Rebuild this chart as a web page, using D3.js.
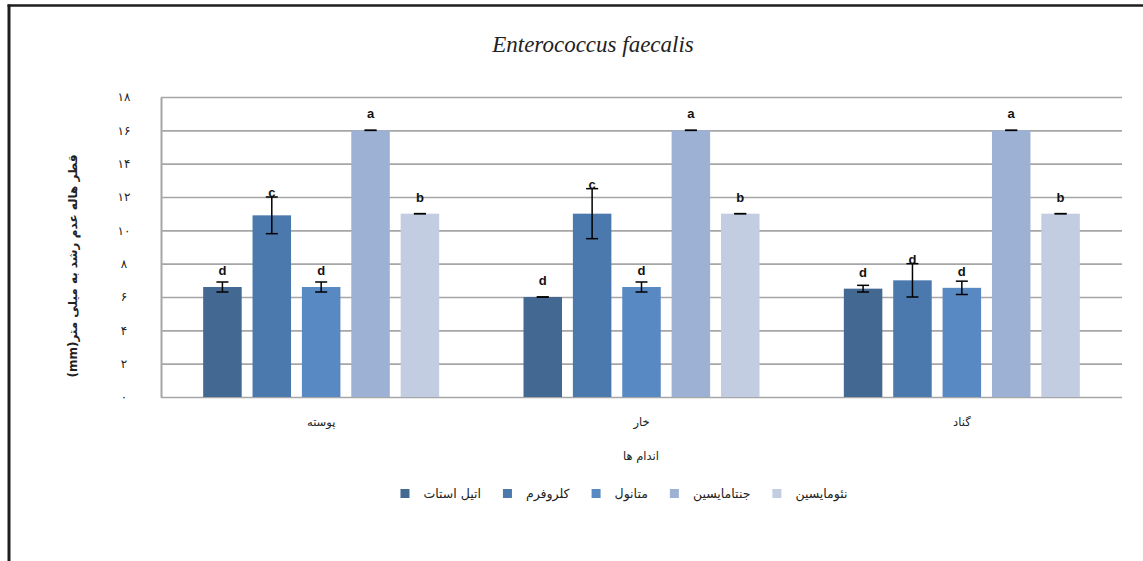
<!DOCTYPE html>
<html>
<head>
<meta charset="utf-8">
<script src="https://cdn.jsdelivr.net/npm/d3@7"></script>
<style>
  html, body { margin: 0; padding: 0; background: #fff; }
  svg { display: block; }
</style>
</head>
<body>
<svg id="chart" width="1143" height="561"></svg>
<script>
// Plant organs (x categories) and extract/antibiotic series
const categories = ['پوسته', 'خار', 'گناد'];
const seriesNames = ['اتیل استات', 'کلروفرم', 'متانول', 'جنتامایسین', 'نئومایسین'];
const seriesColors = ['#436892', '#4b79ad', '#5889c2', '#9db1d5', '#c2cde2'];

// Inhibition zone diameter (mm), one value per organ
const ethylAcetate = [6.6, 6.0, 6.5];
const chloroform   = [10.9, 11.0, 7.0];
const methanol     = [6.6, 6.6, 6.55];
const gentamicin   = [16, 16, 16];
const neomycin     = [11, 11, 11];

// Standard errors
const ethylAcetateErr = [0.3, 0, 0.2];
const chloroformErr   = [1.1, 1.5, 1.0];
const methanolErr     = [0.3, 0.3, 0.4];
const gentamicinErr   = [0, 0, 0];
const neomycinErr     = [0, 0, 0];

// Significance letters
const ethylAcetateSig = ['d', 'd', 'd'];
const chloroformSig   = ['c', 'c', 'd'];
const methanolSig     = ['d', 'd', 'd'];
const gentamicinSig   = ['a', 'a', 'a'];
const neomycinSig     = ['b', 'b', 'b'];

const yTicks = [0, 2, 4, 6, 8, 10, 12, 14, 16, 18];

const seriesValues = [ethylAcetate, chloroform, methanol, gentamicin, neomycin];
const seriesErrors = [ethylAcetateErr, chloroformErr, methanolErr, gentamicinErr, neomycinErr];
const seriesSig    = [ethylAcetateSig, chloroformSig, methanolSig, gentamicinSig, neomycinSig];

const rows = [];
categories.forEach((c, ci) => {
  seriesNames.forEach((s, si) => {
    rows.push({ cat: c, series: s, si, value: seriesValues[si][ci], err: seriesErrors[si][ci], sig: seriesSig[si][ci] });
  });
});

const persianDigits = '۰۱۲۳۴۵۶۷۸۹';
const toPersian = n => String(n).replace(/\d/g, d => persianDigits[d]);

const svg = d3.select('#chart');
const faFont = '"DejaVu Sans", "Noto Sans", sans-serif';

// Outer frame (left and top edges)
svg.append('line').attr('x1', 9).attr('x2', 9).attr('y1', 4.5).attr('y2', 561)
  .attr('stroke', '#1e1e1e').attr('stroke-width', 3);
svg.append('line').attr('x1', 7.5).attr('x2', 1143).attr('y1', 5.5).attr('y2', 5.5)
  .attr('stroke', '#1e1e1e').attr('stroke-width', 2.5);

const plot = { left: 161, right: 1122, top: 97, bottom: 397 };

const x0 = d3.scaleBand().domain(categories).range([plot.left, plot.right]).padding(0);
const groupHalf = 118;
const x1 = d3.scaleBand().domain(seriesNames).range([-groupHalf, groupHalf]).paddingInner(0.22).paddingOuter(0);
const y = d3.scaleLinear().domain([0, 18]).range([plot.bottom, plot.top]);

// Gridlines + y axis
const yAxis = svg.append('g').attr('transform', `translate(${plot.left},0)`)
  .call(d3.axisLeft(y).tickValues(yTicks).tickSize(-(plot.right - plot.left)).tickSizeOuter(0).tickFormat(toPersian));
yAxis.select('.domain').attr('stroke', '#a6a6a6').attr('stroke-width', 2);
yAxis.selectAll('.tick line').attr('stroke', '#a6a6a6').attr('stroke-width', 1.6);
yAxis.selectAll('.tick text')
  .attr('x', -37).attr('text-anchor', 'middle')
  .attr('font-family', faFont).attr('font-size', 12).attr('fill', '#222');

// Bars
const barG = svg.append('g');
barG.selectAll('rect').data(rows).join('rect')
  .attr('x', d => x0(d.cat) + x0.bandwidth() / 2 + x1(d.series))
  .attr('y', d => y(d.value))
  .attr('width', x1.bandwidth())
  .attr('height', d => y(0) - y(d.value))
  .attr('fill', d => seriesColors[d.si]);

// Error bars
const capHalf = 6;
const cx = d => x0(d.cat) + x0.bandwidth() / 2 + x1(d.series) + x1.bandwidth() / 2;
const errG = svg.append('g').attr('stroke', '#000').attr('stroke-width', 1.5);
rows.forEach(d => {
  const hi = y(d.value + d.err), lo = y(d.value - d.err), c = cx(d);
  if (d.err > 0) errG.append('line').attr('x1', c).attr('x2', c).attr('y1', hi).attr('y2', lo);
  errG.append('line').attr('x1', c - capHalf).attr('x2', c + capHalf).attr('y1', hi).attr('y2', hi);
  errG.append('line').attr('x1', c - capHalf).attr('x2', c + capHalf).attr('y1', lo).attr('y2', lo);
});

// Significance letters
svg.append('g').selectAll('text').data(rows).join('text')
  .attr('x', cx)
  .attr('y', d => Math.min(y(d.value) - 17, y(d.value + d.err) - 5) + 5)
  .attr('text-anchor', 'middle')
  .attr('font-family', '"Liberation Sans", Arial, sans-serif')
  .attr('font-weight', 'bold').attr('font-size', 13).attr('fill', '#111')
  .text(d => d.sig);

// Category labels
const xAxis = svg.append('g').attr('transform', `translate(0,${plot.bottom})`)
  .call(d3.axisBottom(x0).tickSize(0).tickPadding(0));
xAxis.select('.domain').remove();
xAxis.selectAll('.tick text').attr('y', 29).attr('dy', 0)
  .attr('font-family', faFont).attr('font-size', 11.5).attr('fill', '#222');

// Title
svg.append('text').attr('x', 593).attr('y', 52).attr('text-anchor', 'middle')
  .attr('font-family', '"Liberation Serif", "DejaVu Serif", serif').attr('font-style', 'italic')
  .attr('font-size', 23).attr('fill', '#222')
  .text('Enterococcus faecalis');

// Axis titles
svg.append('text').attr('transform', 'translate(77,266) rotate(-90)')
  .attr('text-anchor', 'middle').attr('direction', 'rtl')
  .attr('font-family', faFont).attr('font-weight', 'bold').attr('font-size', 12).attr('fill', '#222')
  .text('قطر هاله عدم رشد به میلی متر(mm)');

svg.append('text').attr('x', 641).attr('y', 460).attr('text-anchor', 'middle').attr('direction', 'rtl')
  .attr('font-family', faFont).attr('font-size', 11.5).attr('fill', '#222')
  .text('اندام ها');

// Legend
const legend = svg.append('g');
const sq = 9, gapIn = 14, gapOut = 22;
let lx = 0;
seriesNames.forEach((name, i) => {
  const g = legend.append('g');
  g.append('rect').attr('x', 0).attr('y', -9).attr('width', sq).attr('height', sq).attr('fill', seriesColors[i]);
  const t = g.append('text').attr('x', sq + gapIn).attr('y', 0).attr('direction', 'ltr')
    .attr('font-family', faFont).attr('font-size', 12.5).attr('fill', '#222').text(name);
  const w = t.node().getComputedTextLength();
  g.attr('transform', `translate(${lx},0)`);
  lx += sq + gapIn + w + gapOut;
});
const legendWidth = lx - gapOut;
legend.attr('transform', `translate(${624 - legendWidth / 2},498)`);
</script>
</body>
</html>
